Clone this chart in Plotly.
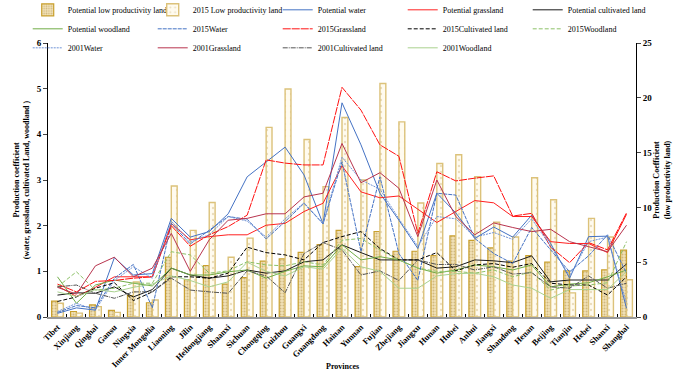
import plotly.graph_objects as go

provinces = ["Tibet", "Xinjiang", "Qinghai", "Gansu", "Ningxia", "Inner Mongolia", "Liaoning", "Jilin",
             "Heilongjiang", "Shaanxi", "Sichuan", "Chongqing", "Guizhou", "Guangxi", "Guangdong", "Hainan",
             "Yunnan", "Fujian", "Zhejiang", "Jiangxu", "Hunan", "Hubei", "Anhui", "Jiangxi", "Shandong",
             "Henan", "Beijing", "Tianjin", "Hebei", "Shanxi", "Shanghai"]

# low productivity land (right axis)
potential_low = [1.45, 0.5, 1.1, 0.6, 1.95, 1.3, 5.45, 3.4, 4.7, 3.0, 3.6, 5.1, 5.3, 5.9, 6.6, 7.9,
                 4.6, 7.8, 6.0, 6.0, 5.6, 7.4, 7.0, 6.3, 5.1, 5.6, 5.0, 4.2, 4.2, 4.3, 6.1]
low_2015 = [1.25, 0.35, 0.95, 0.42, 3.2, 1.55, 11.95, 7.9, 10.45, 5.45, 7.2, 17.3, 20.8, 16.2, 11.9, 18.2,
            12.5, 21.3, 17.8, 10.4, 14.0, 14.8, 12.8, 8.65, 7.3, 12.7, 10.7, 2.2, 9.0, 7.3, 3.4]

# left axis series
potential_water = [0.08, 0.2, 0.15, 1.3, 0.92, 0.95, 2.16, 1.75, 1.87, 2.26, 3.07, 3.4, 3.72, 3.11, 2.04, 4.69,
                   3.77, 2.71, 2.12, 1.5, 2.71, 2.28, 1.72, 1.97, 1.75, 2.23, 1.61, 0.85, 1.76, 1.77, 0.19]
potential_grass = [0.68, 0.45, 0.65, 0.88, 0.88, 0.88, 2.05, 1.69, 1.76, 1.8, 1.8, 2.01, 2.05, 2.31, 2.49, 3.31,
                   2.74, 2.61, 2.65, 2.35, 2.07, 2.31, 2.55, 2.5, 2.2, 2.2, 1.65, 1.61, 1.61, 1.41, 2.25]
potential_cult = [0.48, 0.53, 0.52, 0.66, 0.44, 0.6, 1.07, 0.92, 0.85, 0.9, 1.03, 0.96, 1.01, 1.21, 1.25, 1.58,
                  1.41, 1.25, 1.25, 1.25, 1.07, 1.1, 1.25, 1.23, 1.19, 1.34, 0.77, 0.81, 0.81, 0.81, 1.16]
potential_wood = [0.88, 0.3, 0.7, 0.81, 0.74, 0.68, 1.07, 0.92, 0.92, 0.99, 1.03, 0.85, 1.0, 1.12, 1.1, 1.58,
                  1.25, 1.32, 1.25, 1.07, 0.96, 1.03, 1.14, 1.1, 1.03, 1.14, 0.66, 0.72, 0.75, 0.88, 1.03]
water_2015 = [0.1, 0.25, 0.2, 0.85, 1.15, 0.2, 2.05, 1.6, 1.9, 2.2, 2.14, 1.71, 2.09, 2.49, 2.04, 3.4,
              1.43, 3.07, 1.39, 0.8, 2.71, 2.67, 1.72, 1.39, 1.17, 1.96, 1.47, 0.99, 1.34, 1.8, 0.96]
grass_2015 = [0.72, 0.55, 0.78, 0.8, 0.85, 0.88, 2.0, 1.55, 1.8, 1.98, 2.23, 3.44, 3.37, 3.33, 3.33, 5.03,
              4.53, 3.77, 3.52, 1.83, 3.18, 2.98, 3.04, 3.09, 2.21, 2.27, 1.53, 1.19, 1.63, 1.47, 2.28]
cult_2015 = [0.34, 0.44, 0.63, 0.75, 0.36, 0.55, 0.88, 0.88, 0.85, 0.96, 1.53, 1.41, 1.36, 1.25, 1.63, 1.76,
             1.87, 1.5, 1.25, 1.25, 1.41, 1.01, 1.14, 1.17, 1.09, 1.17, 0.74, 0.7, 0.7, 0.48, 0.88]
wood_2015 = [0.66, 0.99, 0.59, 0.63, 0.74, 0.74, 1.43, 1.36, 0.96, 1.01, 1.21, 1.14, 1.12, 1.21, 1.14, 1.68,
             1.72, 1.47, 1.25, 1.07, 1.0, 1.0, 0.96, 1.03, 0.88, 0.99, 0.59, 0.68, 0.7, 0.75, 1.65]
water_2001 = [0.12, 0.3, 0.15, 0.8, 1.1, 0.85, 2.1, 1.65, 1.8, 2.2, 2.1, 1.75, 2.15, 2.5, 2.05, 3.5,
              3.0, 2.8, 2.15, 1.55, 2.2, 2.15, 1.75, 1.85, 1.7, 2.15, 1.55, 0.9, 1.65, 1.75, 0.3]
grass_2001 = [0.65, 0.5, 1.12, 1.31, 0.88, 1.07, 1.83, 1.0, 1.69, 2.12, 2.16, 2.26, 2.26, 2.63, 2.71, 3.8,
              2.94, 3.16, 2.82, 1.76, 3.0, 2.2, 1.8, 2.06, 1.96, 1.87, 1.92, 1.65, 1.54, 1.43, 2.01]
cult_2001 = [0.66, 0.7, 0.52, 0.41, 0.55, 0.55, 0.85, 0.59, 0.55, 0.52, 1.01, 0.9, 0.53, 1.39, 1.63, 1.47,
             0.92, 1.01, 0.8, 1.25, 1.15, 1.15, 1.03, 1.1, 0.94, 0.97, 0.66, 0.63, 0.9, 0.63, 0.74]
wood_2001 = [0.55, 0.45, 0.6, 0.55, 0.65, 0.72, 0.9, 0.8, 0.66, 0.77, 1.2, 1.0, 0.9, 1.1, 1.05, 1.5,
             1.1, 1.0, 0.63, 0.63, 0.9, 0.95, 0.96, 0.88, 0.7, 0.63, 0.41, 0.6, 0.6, 0.6, 1.0]

left_ticks = [0, 1, 2, 3, 4, 5, 6]
right_ticks = [0, 5, 10, 15, 20, 25]

SERIF = "Liberation Serif, Times New Roman, serif"

fig = go.Figure()

fig.add_trace(go.Bar(
    x=provinces, y=potential_low, name="Potential low productivity land", yaxis="y",
    marker=dict(color="#f1e2b8", line=dict(color="#c9a02e", width=1.2),
                pattern=dict(shape=".", fgcolor="#b08d45", bgcolor="#f1e2b8", size=3, solidity=0.35)),
))
fig.add_trace(go.Bar(
    x=provinces, y=low_2015, name="2015 Low productivity land", yaxis="y",
    marker=dict(color="#fffbef", line=dict(color="#dcc27a", width=1.4),
                pattern=dict(shape=".", fgcolor="#d6c08a", bgcolor="#fffbef", size=6, solidity=0.12)),
))

line_specs = [
    ("Potential water", potential_water, "#4472c4", "solid"),
    ("Potential grassland", potential_grass, "#ff2020", "solid"),
    ("Potential cultivated land", potential_cult, "#1a1a1a", "solid"),
    ("Potential woodland", potential_wood, "#70ad47", "solid"),
    ("2015Water", water_2015, "#4472c4", "4px,1px"),
    ("2015Grassland", grass_2015, "#ff1010", "8px,1px"),
    ("2015Cultivated land", cult_2015, "#000000", "4px,2px"),
    ("2015Woodland", wood_2015, "#8cc168", "4px,2px"),
    ("2001Water", water_2001, "#6f93d6", "2px,1px"),
    ("2001Grassland", grass_2001, "#b8344e", "solid"),
    ("2001Cultivated land", cult_2001, "#555555", "5px,1px,1px,1px"),
    ("2001Woodland", wood_2001, "#a9d18e", "solid"),
]
for name, vals, color, dash in line_specs:
    fig.add_trace(go.Scatter(
        x=provinces, y=vals, name=name, yaxis="y2", mode="lines",
        line=dict(color=color, width=1, dash=dash),
    ))

fig.add_annotation(text="<b>Provinces</b>", xref="paper", yref="paper", x=0.5, y=-0.179,
                   xanchor="center", yanchor="middle", showarrow=False,
                   font=dict(family=SERIF, size=8, color="black"))

fig.update_layout(
    width=692, height=374,
    paper_bgcolor="white", plot_bgcolor="white",
    margin=dict(l=48, r=56, t=43, b=57, autoexpand=False),
    font=dict(family=SERIF, size=10, color="black"),
    barmode="group", bargap=0.38, bargroupgap=0.0,
    showlegend=True,
    legend=dict(orientation="h", x=-0.0345, xanchor="left", y=1.174, yanchor="top",
                entrywidth=80, entrywidthmode="pixels", font=dict(family=SERIF, size=8),
                bgcolor="rgba(0,0,0,0)", traceorder="normal"),
    xaxis=dict(
        type="category", tickangle=-45, tickfont=dict(family=SERIF, size=8.5, color="black", weight="bold"),
        showline=True, linecolor="#9a9a9a", linewidth=2, ticks="inside", ticklen=3, tickcolor="black",
        tickson="boundaries", showgrid=False, mirror=False,
    ),
    yaxis=dict(
        side="right", range=[0, 25], tickvals=right_ticks, showgrid=False, zeroline=False,
        showline=True, linecolor="black", linewidth=1, ticks="outside", ticklen=4,
        tickfont=dict(family=SERIF, size=9, weight="bold"),
        title=dict(text="<b>Production Coefficient<br>(low productivity land)</b>",
                   font=dict(family=SERIF, size=8), standoff=1),
    ),
    yaxis2=dict(
        overlaying="y", side="left", range=[0, 6], tickvals=left_ticks, showgrid=False, zeroline=False,
        showline=True, linecolor="black", linewidth=1, ticks="outside", ticklen=4,
        tickfont=dict(family=SERIF, size=9, weight="bold"),
        title=dict(text="<b>Production coefficient<br>(water, grassland, cultivated Land, woodland )</b>",
                   font=dict(family=SERIF, size=8), standoff=5),
    ),
)

fig.write_html("out.html", config={"displayModeBar": False},
               post_script="document.body.style.margin='0px';")
